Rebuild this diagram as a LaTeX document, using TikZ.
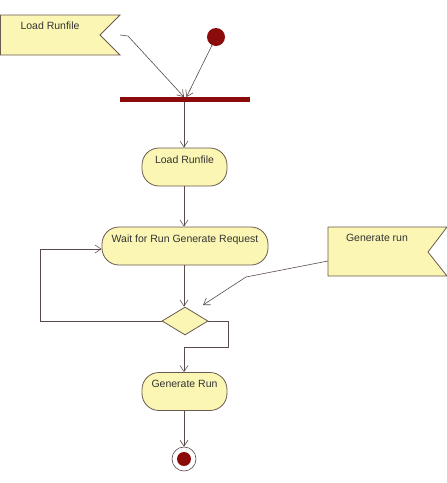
\documentclass[tikz,border=0pt]{standalone}
\usepackage{fontspec}
\setmainfont{Liberation Sans}
\usetikzlibrary{arrows.meta,shapes.geometric}
\definecolor{fillY}{HTML}{FBF6B4}
\definecolor{edgeC}{HTML}{6A5A50}
\definecolor{lineC}{HTML}{5A4A4A}
\definecolor{darkR}{HTML}{8B0A0A}
\tikzset{
  action/.style={draw=edgeC, fill=fillY, rounded corners=17pt, line width=0.8pt,
    minimum width=85pt, minimum height=38pt, text height=8pt, text depth=16pt,
    inner sep=0pt, font=\fontsize{10.5}{12}\selectfont, text=black!80},
  signalbox/.style={draw=edgeC, fill=fillY, line width=0.8pt},
  lbl/.style={font=\fontsize{10.5}{12}\selectfont, text=black!80, inner sep=0pt},
  flow/.style={draw=lineC, line width=0.6pt, -{Straight Barb[length=6pt,width=8pt]}},
  plain/.style={draw=lineC, line width=0.6pt},
}
\begin{document}
\begin{tikzpicture}[x=1pt,y=-1pt]
\useasboundingbox (0,0) rectangle (447,483);
% signals
\draw[signalbox] (0.5,15) -- (120,15) -- (100,35) -- (120,55) -- (0.5,55) -- cycle;
\node[lbl] (sigload) at (50,26) {Load Runfile};
\coordinate (sigloadout) at (120,35);
\coordinate (sigloadbend) at (128,36);
\draw[signalbox] (328,227) -- (447,227) -- (428,252) -- (447,276) -- (328,276) -- cycle;
\node[lbl] (siggen) at (377,238) {Generate run};
\coordinate (siggenout) at (328,261);
\coordinate (siggenbend) at (246,277);
% initial node
\node[circle, fill=darkR, minimum size=18pt, inner sep=0pt] (init) at (216,37) {};
% fork bar
\node[rectangle, fill=darkR, minimum width=130pt, minimum height=5pt, inner sep=0pt] (bar) at (185,99.5) {};
% actions
\node[action] (load) at (184.5,167) {Load Runfile};
\node[action, minimum width=166pt] (wait) at (185,246) {Wait for Run Generate Request};
\node[diamond, draw=edgeC, fill=fillY, line width=0.8pt, minimum width=46pt, minimum height=28pt, inner sep=0pt] (dec) at (185,321) {};
\node[action] (gen) at (184.5,391.5) {Generate Run};
% final node
\node[circle, draw=lineC, fill=white, line width=0.6pt, minimum size=24pt, inner sep=0pt] (final) at (184,459) {};
\node[circle, fill=darkR, minimum size=14pt, inner sep=0pt] (finalin) at (184,459) {};
% connectors
\draw[flow] (sigloadout) -- (sigloadbend) -- (184,97);
\draw[flow] (init) -- (186.5,97);
\draw[flow] (184,102) -- (load.north -| 184,0);
\draw[flow] (load.south -| 184,0) -- (wait.north -| 184,0);
\draw[flow] (wait.south -| 184,0) -- (dec.north -| 184,0);
\draw[flow] (siggenout) -- (siggenbend) -- (203,305);
\draw[flow] (dec.west) -- (40,321) -- (40,249) -- (wait.west |- 0,249);
\draw[flow] (dec.east) -- (228,321) -- (228,347) -- (184,347) -- (gen.north -| 184,0);
\draw[flow] (gen.south -| 184,0) -- (final.north);
\end{tikzpicture}
\end{document}
